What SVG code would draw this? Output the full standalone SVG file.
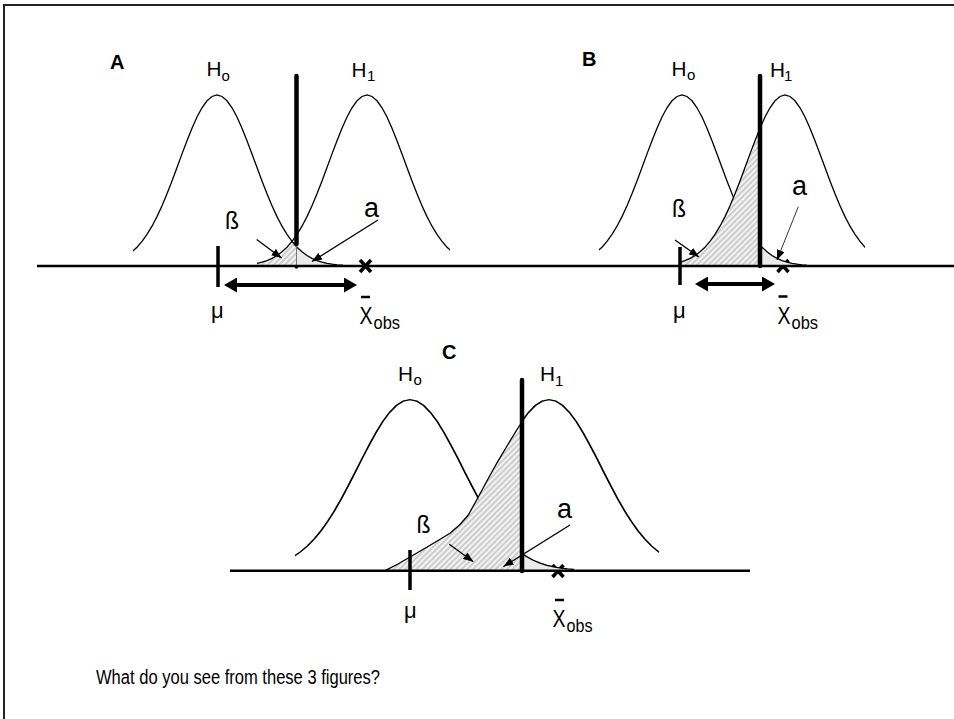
<svg xmlns="http://www.w3.org/2000/svg" xmlns:xlink="http://www.w3.org/1999/xlink" width="954" height="719" viewBox="0 0 954 719">
<style>
.curve{fill:none;stroke:#000;stroke-width:1.3}
.axis{stroke:#000;stroke-width:2.5}
.cut{stroke:#000;stroke-width:4.5;stroke-linecap:round}
.tick{stroke:#000;stroke-width:3.5}
.ptr{stroke:#000;stroke-width:1.3;marker-end:url(#ptr)}
.dbl{stroke:#000;stroke-width:4;marker-start:url(#big);marker-end:url(#big)}
.xm{stroke:#000;stroke-width:3.5}
.bar{stroke:#000;stroke-width:2.5}
.hatch{fill:url(#hatch)}
.alpha{fill:#ebebeb}
text{font-family:"Liberation Sans",Arial,sans-serif;fill:#000}
.pl{font-size:20px;font-weight:bold}
.h{font-size:20px}
.sub{font-size:15px}
.aa{font-size:27px}
.mu{font-size:22px}
.bet{font-size:23px}
.xx{font-size:24px}
.obs{font-size:19px}
.q{font-size:20px}
</style>
<defs>
<path id="g" d="M-130,-0.5 L-125,-0.8 L-120,-1.2 L-115,-1.8 L-110,-2.6 L-105,-3.8 L-100,-5.4 L-95,-7.6 L-90,-10.5 L-85,-14.2 L-80,-18.8 L-75,-24.6 L-70,-31.6 L-65,-39.8 L-60,-49.4 L-55,-60.3 L-50,-72.2 L-45,-85.1 L-40,-98.5 L-35,-112.1 L-30,-125.3 L-25,-137.8 L-20,-149 L-15,-158.2 L-10,-165.2 L-5,-169.5 L0,-171 L5,-169.5 L10,-165.2 L15,-158.2 L20,-149 L25,-137.8 L30,-125.3 L35,-112.1 L40,-98.5 L45,-85.1 L50,-72.2 L55,-60.3 L60,-49.4 L65,-39.8 L70,-31.6 L75,-24.6 L80,-18.8 L85,-14.2 L90,-10.5 L95,-7.6 L100,-5.4 L105,-3.8 L110,-2.6 L115,-1.8 L120,-1.2 L125,-0.8 L130,-0.5"/>
<path id="gf" d="M-130,-0.5 L-125,-0.8 L-120,-1.2 L-115,-1.8 L-110,-2.6 L-105,-3.8 L-100,-5.4 L-95,-7.6 L-90,-10.5 L-85,-14.2 L-80,-18.8 L-75,-24.6 L-70,-31.6 L-65,-39.8 L-60,-49.4 L-55,-60.3 L-50,-72.2 L-45,-85.1 L-40,-98.5 L-35,-112.1 L-30,-125.3 L-25,-137.8 L-20,-149 L-15,-158.2 L-10,-165.2 L-5,-169.5 L0,-171 L5,-169.5 L10,-165.2 L15,-158.2 L20,-149 L25,-137.8 L30,-125.3 L35,-112.1 L40,-98.5 L45,-85.1 L50,-72.2 L55,-60.3 L60,-49.4 L65,-39.8 L70,-31.6 L75,-24.6 L80,-18.8 L85,-14.2 L90,-10.5 L95,-7.6 L100,-5.4 L105,-3.8 L110,-2.6 L115,-1.8 L120,-1.2 L125,-0.8 L130,-0.5 L130,0 L-130,0 Z"/>
<pattern id="hatch" patternUnits="userSpaceOnUse" width="4" height="4" patternTransform="rotate(45)">
<rect width="4" height="4" fill="#f3f3f3"/>
<line x1="1" y1="0" x2="1" y2="4" stroke="#bdbdbd" stroke-width="1.4"/>
</pattern>
<marker id="ptr" viewBox="0 0 10 8" refX="10" refY="4" markerWidth="10" markerHeight="8" markerUnits="userSpaceOnUse" orient="auto"><path d="M0,0 L10,4 L0,8 Z"/></marker>
<marker id="big" viewBox="0 0 13 15" refX="0" refY="7.5" markerWidth="13" markerHeight="15" markerUnits="userSpaceOnUse" orient="auto-start-reverse"><path d="M0,0 L13,7.5 L0,15 Z"/></marker>
<clipPath id="cA0"><rect x="133" y="0" width="210" height="300"/></clipPath>
<clipPath id="cA1"><rect x="257" y="0" width="193" height="300"/></clipPath>
<clipPath id="cAb"><rect x="257" y="0" width="39.5" height="300"/></clipPath>
<clipPath id="cAa"><rect x="296.5" y="0" width="47" height="300"/></clipPath>
<clipPath id="cB0"><rect x="599" y="0" width="134.5" height="300"/></clipPath>
<clipPath id="cBa"><rect x="760" y="0" width="47" height="300"/></clipPath>
<clipPath id="cB1"><rect x="680" y="0" width="185" height="300"/></clipPath>
<clipPath id="cBb"><rect x="680" y="0" width="80" height="300"/></clipPath>
<clipPath id="cC0"><rect x="295" y="300" width="183.3" height="300"/></clipPath>
<clipPath id="cCa"><rect x="522" y="300" width="52" height="300"/></clipPath>
<clipPath id="cC1"><rect x="522" y="300" width="137" height="300"/></clipPath>
</defs>

<g id="frame"><line x1="4" y1="5" x2="954" y2="5" stroke="#222" stroke-width="2"/><line x1="4" y1="4" x2="4" y2="719" stroke="#222" stroke-width="2"/></g>

<g id="xmarks">
<path class="xm" d="M360,260 L371,272 M371,260 L360,272"/>
<path class="xm" d="M777.5,260 L788.5,272 M788.5,260 L777.5,272"/>
<path class="xm" d="M552.5,565 L563.5,577 M563.5,565 L552.5,577"/>
</g>

<g id="panelA">
<g clip-path="url(#cAb)"><use xlink:href="#gf" transform="translate(367,266)" class="hatch"/></g>
<g clip-path="url(#cAa)"><use xlink:href="#gf" transform="translate(217,266)" class="alpha"/></g>
<g clip-path="url(#cA0)"><use xlink:href="#g" transform="translate(217,266)" class="curve"/></g>
<g clip-path="url(#cA1)"><use xlink:href="#g" transform="translate(367,266)" class="curve"/></g>
<line x1="296.5" y1="244" x2="296.5" y2="266" stroke="#777" stroke-width="1"/>
<circle cx="296.5" cy="267" r="1.8"/>
<line class="cut" x1="296.5" y1="76" x2="296.5" y2="244"/>
<line class="tick" x1="218" y1="246" x2="218" y2="287"/>
<line class="dbl" x1="237" y1="285" x2="344" y2="285"/>
<line class="ptr" x1="256.7" y1="239.5" x2="281.5" y2="258"/>
<line class="ptr" x1="378" y1="220" x2="312" y2="261.5"/>
<text class="pl" x="110" y="69">A</text>
<text class="h" x="206.5" y="76" textLength="15" lengthAdjust="spacingAndGlyphs">H</text><text class="sub" x="221.5" y="80.5">o</text>
<text class="h" x="351.5" y="76.5" textLength="15" lengthAdjust="spacingAndGlyphs">H</text><text class="sub" x="367" y="81">1</text>
<text class="bet" x="225" y="229">ß</text>
<text class="aa" x="364" y="216.5">a</text>
<text class="mu" x="211" y="318">μ</text>
<line class="bar" x1="361" y1="297" x2="370" y2="297"/>
<text class="xx" x="359.5" y="324" textLength="13" lengthAdjust="spacingAndGlyphs">X</text><text class="obs" x="373.5" y="328.5" textLength="26.5" lengthAdjust="spacingAndGlyphs">obs</text>
</g>

<g id="panelB">
<g clip-path="url(#cBb)"><use xlink:href="#gf" transform="translate(785,266)" class="hatch"/></g>
<g clip-path="url(#cBa)"><use xlink:href="#gf" transform="translate(682,266)" class="alpha"/></g>
<g clip-path="url(#cB0)"><use xlink:href="#g" transform="translate(682,266)" class="curve"/></g>
<g clip-path="url(#cBa)"><use xlink:href="#g" transform="translate(682,266)" class="curve"/></g>
<g clip-path="url(#cB1)"><use xlink:href="#g" transform="translate(785,266)" class="curve"/></g>
<line class="cut" x1="760" y1="76" x2="760" y2="266"/>
<line class="tick" x1="680" y1="247" x2="680" y2="285"/>
<line class="dbl" x1="708" y1="284" x2="762" y2="284"/>
<line class="ptr" x1="675" y1="240" x2="699" y2="257"/>
<line class="ptr" x1="798.3" y1="206.7" x2="777" y2="260" style="stroke-width:0.8"/>
<text class="pl" x="582" y="66">B</text>
<text class="h" x="671.5" y="75.5" textLength="15" lengthAdjust="spacingAndGlyphs">H</text><text class="sub" x="687" y="80">o</text>
<text class="h" x="770" y="76.5" textLength="15" lengthAdjust="spacingAndGlyphs">H</text><text class="sub" x="784" y="81">1</text>
<text class="bet" x="672" y="217">ß</text>
<text class="aa" x="792" y="194.5">a</text>
<text class="mu" x="673" y="318">μ</text>
<line class="bar" x1="778.5" y1="296.5" x2="787.5" y2="296.5"/>
<text class="xx" x="777.5" y="324" textLength="13" lengthAdjust="spacingAndGlyphs">X</text><text class="obs" x="791.5" y="328.5" textLength="26.5" lengthAdjust="spacingAndGlyphs">obs</text>
</g>

<g id="panelC">
<path class="hatch" d="M385,570.7 L398,564 L410,557 L422,550 L433,543.5 L450,533.3 L460,524.5 L468.3,515 L478.3,497 L488,479 L496.7,463.3 L507,446 L516.7,430 L522,422 L522,570.7 Z"/>
<g clip-path="url(#cCa)"><use xlink:href="#gf" transform="translate(410,570.7) scale(1.37,1)" class="alpha"/></g>
<g clip-path="url(#cC0)"><use xlink:href="#g" transform="translate(410,570.7) scale(1.37,1)" class="curve" style="vector-effect:non-scaling-stroke"/></g>
<g clip-path="url(#cCa)"><use xlink:href="#g" transform="translate(410,570.7) scale(1.37,1)" class="curve" style="vector-effect:non-scaling-stroke"/></g>
<g clip-path="url(#cC1)"><use xlink:href="#g" transform="translate(549,570.7) scale(1.37,1)" class="curve" style="vector-effect:non-scaling-stroke"/></g>
<path class="curve" d="M385,570.7 L398,564 L410,557 L422,550 L433,543.5 L450,533.3 L460,524.5 L468.3,515 L478.3,497 L488,479 L496.7,463.3 L507,446 L516.7,430 L522,422"/>
<line class="cut" x1="522" y1="380" x2="522" y2="571"/>
<line class="tick" x1="410" y1="550" x2="410" y2="590"/>
<line class="ptr" x1="449.3" y1="544.3" x2="473.3" y2="561.7"/>
<line class="ptr" x1="570" y1="525" x2="503.5" y2="566.5"/>
<text class="pl" x="442" y="358.5">C</text>
<text class="h" x="398" y="380.5" textLength="15" lengthAdjust="spacingAndGlyphs">H</text><text class="sub" x="413.5" y="385">o</text>
<text class="h" x="540" y="380.5" textLength="15" lengthAdjust="spacingAndGlyphs">H</text><text class="sub" x="555" y="385.5">1</text>
<text class="bet" x="416.5" y="532.5">ß</text>
<text class="aa" x="557" y="518">a</text>
<text class="mu" x="404" y="618">μ</text>
<line class="bar" x1="555" y1="600" x2="564" y2="600"/>
<text class="xx" x="552.5" y="627" textLength="13" lengthAdjust="spacingAndGlyphs">X</text><text class="obs" x="566.5" y="632" textLength="26" lengthAdjust="spacingAndGlyphs">obs</text>
</g>

<g id="axes">
<line class="axis" x1="37" y1="266" x2="954" y2="266"/>
<line class="axis" x1="230" y1="570.7" x2="750" y2="570.7"/>
</g>

<text class="q" x="96" y="684" textLength="284" lengthAdjust="spacingAndGlyphs">What do you see from these 3 figures?</text>
</svg>
